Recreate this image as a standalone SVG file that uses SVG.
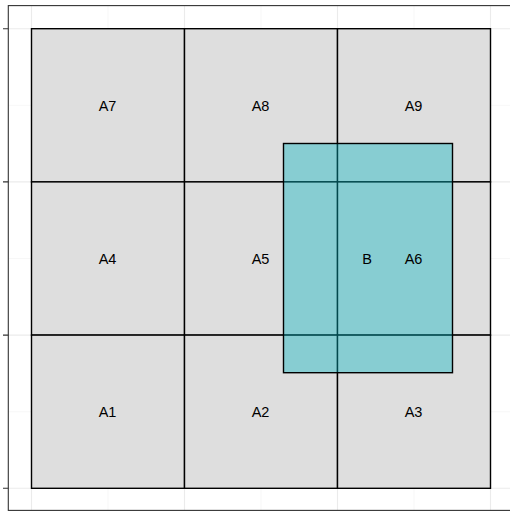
<svg xmlns="http://www.w3.org/2000/svg" width="510" height="512" viewBox="0 0 510 512">
<style>
.major{stroke:#EBEBEB;stroke-width:1.1;fill:none}
.minor{stroke:#F2F2F2;stroke-width:0.6;fill:none}
.cell{fill:#DEDEDE;stroke:#000;stroke-width:1.4}
.lbl{font-family:"Liberation Sans",Arial,sans-serif;font-size:14.5px;fill:#000;text-anchor:middle}
.tick{stroke:#333;stroke-width:1.1}
</style>
<rect x="0" y="0" width="510" height="512" fill="#fff"/>
<g id="grid">
<path class="minor" d="M8 105.3H510M8 258.5H510M8 411.7H510M108 5V510M261 5V510M414 5V510"/>
<path class="major" d="M8 28.7H510M8 181.9H510M8 335.1H510M8 488.3H510M31.5 5V510M184.5 5V510M337.5 5V510M490.5 5V510"/>
</g>
<g id="cells">
<g id="A7"><rect class="cell" x="31.5" y="28.7" width="153" height="153.2"/></g>
<g id="A8"><rect class="cell" x="184.5" y="28.7" width="153" height="153.2"/></g>
<g id="A9"><rect class="cell" x="337.5" y="28.7" width="153" height="153.2"/></g>
<g id="A4"><rect class="cell" x="31.5" y="181.9" width="153" height="153.2"/></g>
<g id="A5"><rect class="cell" x="184.5" y="181.9" width="153" height="153.2"/></g>
<g id="A6"><rect class="cell" x="337.5" y="181.9" width="153" height="153.2"/></g>
<g id="A1"><rect class="cell" x="31.5" y="335.1" width="153" height="153.2"/></g>
<g id="A2"><rect class="cell" x="184.5" y="335.1" width="153" height="153.2"/></g>
<g id="A3"><rect class="cell" x="337.5" y="335.1" width="153" height="153.2"/></g>
</g>
<g id="B"><rect x="283.5" y="143.5" width="169" height="229.2" fill="#05B4C0" fill-opacity="0.4" stroke="#000" stroke-width="1.4"/></g>
<g id="labels">
<text class="lbl" x="107.5" y="110.5">A7</text>
<text class="lbl" x="260.5" y="110.5">A8</text>
<text class="lbl" x="413.5" y="110.5">A9</text>
<text class="lbl" x="107.5" y="263.7">A4</text>
<text class="lbl" x="260.5" y="263.7">A5</text>
<text class="lbl" x="413.5" y="263.7">A6</text>
<text class="lbl" x="367" y="263.7">B</text>
<text class="lbl" x="107.5" y="416.9">A1</text>
<text class="lbl" x="260.5" y="416.9">A2</text>
<text class="lbl" x="413.5" y="416.9">A3</text>
</g>
<g id="axes">
<rect x="8.3" y="5.6" width="510" height="504.8" fill="none" stroke="#333" stroke-width="1.1"/>
<path class="tick" d="M3 28.7H8.3M3 181.9H8.3M3 335.1H8.3M3 488.3H8.3"/>
</g>
</svg>
